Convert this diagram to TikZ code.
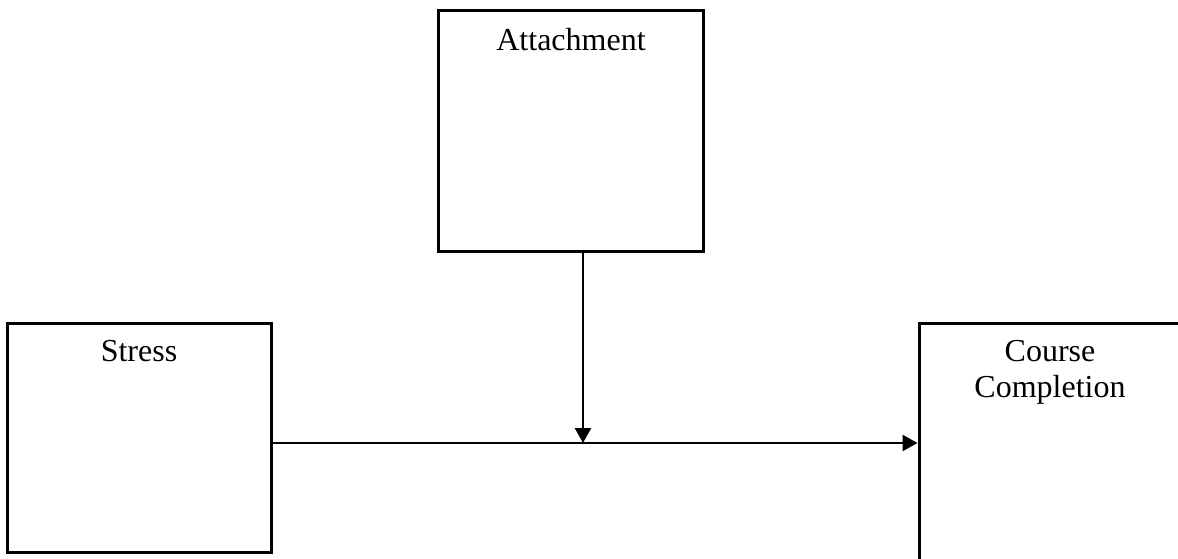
\documentclass[tikz,border=0pt]{standalone}
\usepackage{fontspec}
\setmainfont{Liberation Serif}
\usetikzlibrary{arrows.meta}
\begin{document}
\begin{tikzpicture}[x=1pt,y=-1pt,
  box/.style={draw, line width=3pt, inner sep=0pt, rectangle},
  lbl/.style={font=\fontsize{32}{36}\selectfont, align=center, anchor=north, inner sep=0pt},
  conn/.style={line width=2.5pt, -{Triangle[length=15pt,width=16pt]}}]
\useasboundingbox (0,0) rectangle (1178,559);
\clip (0,0) rectangle (1178,559);
\fill[white] (0,0) rectangle (1178,559);
% boxes
\node[box, minimum width=265pt, minimum height=240pt] (att) at (571,131) {};
\node[box, minimum width=264pt, minimum height=229pt] (str) at (139,437.5) {};
\node[box, minimum width=262pt, minimum height=280pt] (cc) at (1050,463) {};
% labels
\node[lbl] (attl) at ([yshift=-19pt]att.north) {Attachment};
\node[lbl] (strl) at ([yshift=-19pt]str.north) {Stress};
\node[lbl] (ccl) at ([yshift=-19pt]cc.north) {Course\\Completion};
% connectors
\coordinate (top) at ([xshift=12pt]att.south);
\coordinate (mid) at (top |- 0,443);
\draw[conn] (str.east |- 0,443) -- (cc.west |- 0,443);
\draw[conn] (top) -- (mid);
\end{tikzpicture}
\end{document}
